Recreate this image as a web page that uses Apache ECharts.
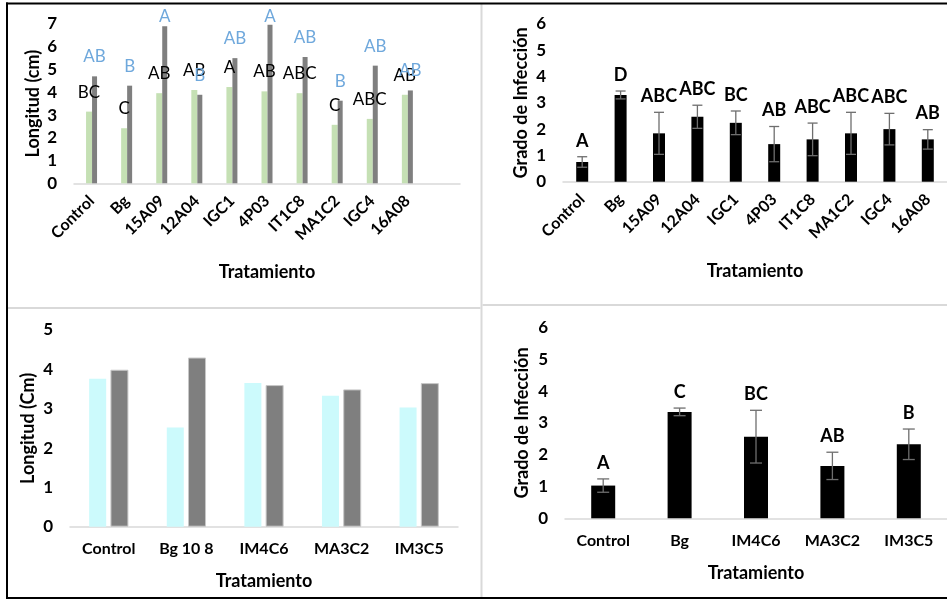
<!DOCTYPE html>
<html>
<head>
<meta charset="utf-8">
<script src="https://cdn.jsdelivr.net/npm/echarts@6/dist/echarts.min.js"></script>
<style>
  html, body { margin: 0; padding: 0; background: #fff; }
  #chart { width: 947px; height: 600px; }
</style>
</head>
<body>
<div id="chart"></div>
<script>
// ---- Panel A: root length, first screening (10 treatments + spare slot) ----
const catsA = ['Control', 'Bg', '15A09', '12A04', 'IGC1', '4P03', 'IT1C8', 'MA1C2', 'IGC4', '16A08', ''];
const lenGreen = [3.15, 2.42, 3.96, 4.10, 4.23, 4.04, 3.96, 2.57, 2.83, 3.89];
const lenGrayA = [4.70, 4.29, 6.90, 3.89, 5.50, 6.97, 5.55, 3.63, 5.17, 4.08];
const lettersGreen = ['BC', 'C', 'AB', 'AB', 'A', 'AB', 'ABC', 'C', 'ABC', 'AB'];
const lettersGrayA = ['AB', 'B', 'A', 'B', 'AB', 'A', 'AB', 'B', 'AB', 'AB'];

// ---- Panel B: infection grade, first screening ----
const catsB = ['Control', 'Bg', '15A09', '12A04', 'IGC1', '4P03', 'IT1C8', 'MA1C2', 'IGC4', '16A08'];
const infB = [0.75, 3.30, 1.84, 2.47, 2.24, 1.43, 1.61, 1.84, 2.00, 1.61];
const errB = [0.20, 0.15, 0.80, 0.44, 0.45, 0.67, 0.62, 0.80, 0.60, 0.37];
const lettersB = ['A', 'D', 'ABC', 'ABC', 'BC', 'AB', 'ABC', 'ABC', 'ABC', 'AB'];

// ---- Panel C: root length, second screening ----
const catsC = ['Control', 'Bg 10 8', 'IM4C6', 'MA3C2', 'IM3C5'];
const lenCyan = [3.76, 2.52, 3.65, 3.33, 3.03];
const lenGrayC = [3.99, 4.30, 3.60, 3.49, 3.65];

// ---- Panel D: infection grade, second screening ----
const catsD = ['Control', 'Bg', 'IM4C6', 'MA3C2', 'IM3C5'];
const infD = [1.03, 3.35, 2.57, 1.65, 2.33];
const errD = [0.21, 0.12, 0.83, 0.43, 0.48];
const lettersD = ['A', 'C', 'BC', 'AB', 'B'];

const FONT = 'Lato';
const AXIS_GRAY = '#d9d9d9';

function xLabel(extra) {
  return Object.assign({ color: '#000', fontFamily: FONT, fontWeight: 'bold', fontSize: 16, interval: 0 }, extra);
}

function xAxisCfg(idx, cats, labelExtra, gap) {
  return {
    type: 'category', gridIndex: idx, data: cats,
    axisLine: { lineStyle: { color: AXIS_GRAY, width: 1.5 } },
    axisTick: { show: false },
    axisLabel: xLabel(labelExtra),
    name: 'Tratamiento', nameLocation: 'middle', nameGap: gap,
    nameTextStyle: { color: '#000', fontFamily: FONT, fontWeight: 'bold', fontSize: 18 }
  };
}

function yAxisCfg(idx, max, name, gap) {
  return {
    type: 'value', gridIndex: idx, min: 0, max: max, interval: 1,
    axisLine: { show: false }, axisTick: { show: false }, splitLine: { show: false },
    axisLabel: { color: '#000', fontFamily: FONT, fontWeight: 'bold', fontSize: 17, margin: 17 },
    name: name, nameLocation: 'middle', nameGap: gap,
    nameTextStyle: { color: '#000', fontFamily: FONT, fontWeight: 'bold', fontSize: 18 }
  };
}

// Error bar with caps plus the significance letter above it
function errorBars(letters, capHalf) {
  return function (params, api) {
    const i = api.value(0), v = api.value(1), e = api.value(2);
    const top = api.coord([i, v + e]);
    const bot = api.coord([i, v - e]);
    const x = top[0];
    const st = { stroke: '#6e6e6e', lineWidth: 1.3 };
    return {
      type: 'group',
      children: [
        { type: 'line', shape: { x1: x, y1: top[1], x2: x, y2: bot[1] }, style: st },
        { type: 'line', shape: { x1: x - capHalf, y1: top[1], x2: x + capHalf, y2: top[1] }, style: st },
        { type: 'line', shape: { x1: x - capHalf, y1: bot[1], x2: x + capHalf, y2: bot[1] }, style: st },
        { type: 'text', style: {
            text: letters[i], x: x, y: top[1] - 7, align: 'center', verticalAlign: 'bottom',
            fill: '#000', font: 'bold 18px ' + FONT } }
      ]
    };
  };
}

// keep letters that would rise above the plot inside the frame
function keepInside(p) {
  return p.labelRect.y < 8 ? { dy: 8 - p.labelRect.y } : {};
}

const chart = echarts.init(document.getElementById('chart'), null, { renderer: 'canvas' });

const option = {
  animation: false,
  backgroundColor: '#fff',
  grid: [
    { left: 74, top: 24, width: 386, height: 159.3 },
    { left: 563, top: 24, width: 388, height: 157.7 },
    { left: 70, top: 330, width: 388, height: 196.7 },
    { left: 565, top: 327.7, width: 387.5, height: 190.6 }
  ],
  xAxis: [
    xAxisCfg(0, catsA, { rotate: 45, margin: 15 }, 80),
    xAxisCfg(1, catsB, { rotate: 45, margin: 15 }, 80),
    xAxisCfg(2, catsC, { margin: 14 }, 45),
    xAxisCfg(3, catsD, { margin: 15 }, 46)
  ],
  yAxis: [
    yAxisCfg(0, 7, 'Longitud (cm)', 32),
    yAxisCfg(1, 6, 'Grado de Infección', 33),
    yAxisCfg(2, 5, 'Longitud (Cm)', 33),
    yAxisCfg(3, 6, 'Grado de Infección', 34)
  ],
  series: [
    {
      type: 'bar', xAxisIndex: 0, yAxisIndex: 0, data: lenGreen,
      barWidth: 6, barGap: '0%', itemStyle: { color: '#c5e0b4' },
      label: { show: true, position: 'top', distance: 11, color: '#000', fontFamily: FONT, fontSize: 17,
               formatter: p => lettersGreen[p.dataIndex] }
    },
    {
      type: 'bar', xAxisIndex: 0, yAxisIndex: 0, data: lenGrayA,
      barWidth: 5, barGap: '0%', itemStyle: { color: '#7f7f7f' },
      label: { show: true, position: 'top', distance: 11, color: '#6fa8dc', fontFamily: FONT, fontSize: 17,
               formatter: p => lettersGrayA[p.dataIndex] },
      labelLayout: keepInside
    },
    {
      type: 'bar', xAxisIndex: 1, yAxisIndex: 1, data: infB,
      barWidth: 12, itemStyle: { color: '#000' }
    },
    {
      type: 'custom', xAxisIndex: 1, yAxisIndex: 1, z: 5,
      data: infB.map((v, i) => [i, v, errB[i]]),
      encode: { x: 0, y: 1 },
      renderItem: errorBars(lettersB, 5)
    },
    {
      type: 'bar', xAxisIndex: 2, yAxisIndex: 2, data: lenCyan,
      barWidth: 17, barGap: '25%', itemStyle: { color: '#ccfafc' }
    },
    {
      type: 'bar', xAxisIndex: 2, yAxisIndex: 2, data: lenGrayC,
      barWidth: 18, barGap: '25%', itemStyle: { color: '#7f7f7f', borderColor: '#c8c8c8', borderWidth: 1 }
    },
    {
      type: 'bar', xAxisIndex: 3, yAxisIndex: 3, data: infD,
      barWidth: 24, itemStyle: { color: '#000' }
    },
    {
      type: 'custom', xAxisIndex: 3, yAxisIndex: 3, z: 5,
      data: infD.map((v, i) => [i, v, errD[i]]),
      encode: { x: 0, y: 1 },
      renderItem: errorBars(lettersD, 6)
    }
  ],
  graphic: [
    // panel separators
    { type: 'rect', shape: { x: 480.5, y: 4, width: 2, height: 593 }, style: { fill: AXIS_GRAY }, silent: true },
    { type: 'rect', shape: { x: 8, y: 307, width: 472.5, height: 2 }, style: { fill: AXIS_GRAY }, silent: true },
    { type: 'rect', shape: { x: 482.5, y: 304, width: 465, height: 2 }, style: { fill: AXIS_GRAY }, silent: true },
    // outer frame
    { type: 'rect', shape: { x: 6, y: 2.5, width: 941, height: 2 }, style: { fill: '#000' }, silent: true },
    { type: 'rect', shape: { x: 6, y: 2.5, width: 2, height: 596 }, style: { fill: '#000' }, silent: true },
    { type: 'rect', shape: { x: 6, y: 597, width: 941, height: 2 }, style: { fill: '#000' }, silent: true }
  ]
};

chart.setOption(option);
</script>
</body>
</html>
